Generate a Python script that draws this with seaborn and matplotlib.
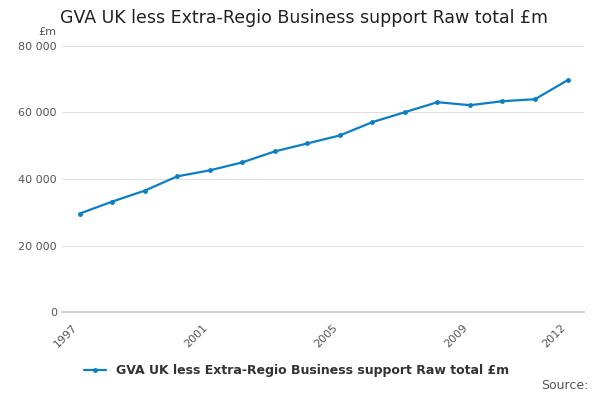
import seaborn as sns
import pandas as pd
import matplotlib.pyplot as plt
from matplotlib.ticker import FuncFormatter

years = list(range(1997, 2013))
gva = [29.6, 33.2, 36.5, 40.8, 42.6, 45.0, 48.3, 50.7, 53.1, 57.1, 60.1, 63.1, 62.2, 63.4, 64.0, 69.7]
gva = [v * 1000 for v in gva]
series_name = "GVA UK less Extra-Regio Business support Raw total £m"
tick_years = [1997, 2001, 2005, 2009, 2012]

sns.set_theme(style="whitegrid")
plt.rcParams['font.family'] = ['DejaVu Sans']

df = pd.DataFrame({"year": years, "value": gva, "series": series_name})

fig = plt.figure(figsize=(6, 4), dpi=100)
ax = fig.add_axes([0.103, 0.22, 0.87, 0.665])
sns.lineplot(data=df, x="year", y="value", hue="series", marker="o", markersize=3.5,
             markeredgewidth=0, palette=["#0a7fc3"], linewidth=1.6, ax=ax)

ax.set_xlim(1996.45, 2012.5)
ax.set_ylim(0, 80000)
ax.set_yticks([0, 20000, 40000, 60000, 80000])
ax.yaxis.set_major_formatter(FuncFormatter(lambda v, p: f"{int(v):,}".replace(",", " ")))
ax.set_xticks(tick_years)
ax.set_xticklabels([str(y) for y in tick_years], rotation=45, ha="right")
ax.tick_params(axis="both", labelsize=8, colors="#555555", length=0)
ax.tick_params(axis="x", length=4, color="#cccccc")
ax.xaxis.grid(False)
ax.yaxis.grid(True, color="#e0e0e0", linewidth=0.8)
for s in ["top", "right", "left"]:
    ax.spines[s].set_visible(False)
ax.spines["bottom"].set_color("#cccccc")
ax.set_xlabel("")
ax.set_ylabel("")

fig.text(0.1, 0.955, "GVA UK less Extra-Regio Business support Raw total £m",
         fontsize=12.5, color="#222222", va="center")
fig.text(0.063, 0.92, "£m", fontsize=8, color="#555555", va="center")

leg = ax.legend(loc="upper center", bbox_to_anchor=(0.45, -0.155), frameon=False,
                fontsize=9, handlelength=1.8)
for t in leg.get_texts():
    t.set_fontweight("bold")
    t.set_color("#333333")
fig.text(0.98, 0.027, "Source:", fontsize=9, color="#555555", ha="right")

fig.savefig("out.png", dpi=100)
